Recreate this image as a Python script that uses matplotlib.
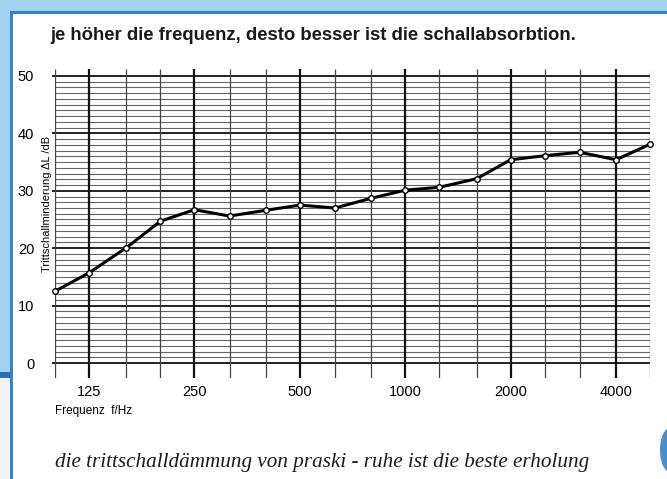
import numpy as np
import matplotlib.pyplot as plt
from matplotlib.patches import Rectangle, Ellipse

# Terzmittenfrequenzen [Hz] und Trittschallminderung [dB]
freq = np.array([100, 125, 160, 200, 250, 315, 400, 500, 630, 800,
                 1000, 1250, 1600, 2000, 2500, 3150, 4000, 5000])
dL = np.array([12.5, 15.7, 20.1, 24.7, 26.7, 25.6, 26.6, 27.5, 27.0, 28.7,
               30.1, 30.6, 32.1, 35.4, 36.1, 36.7, 35.4, 38.1])
xticks = [125, 250, 500, 1000, 2000, 4000]
yticks = [0, 10, 20, 30, 40, 50]

W, H = 667, 479
fig = plt.figure(figsize=(W / 100, H / 100), dpi=100)
fig.patch.set_facecolor("white")

def px(x0, y0, w, h, **kw):
    # rechteck in pixelkoordinaten (oben links)
    fig.patches.append(Rectangle((x0 / W, 1 - (y0 + h) / H), w / W, h / H,
                                 transform=fig.transFigure, figure=fig, **kw))

# blauer rahmen
px(0, 0, W, 11, color="#a3d3f1", lw=0)
px(0, 0, 10, 372, color="#a3d3f1", lw=0)
px(0, 378, 10, 101, color="#eef4f9", lw=0)
px(0, 372, 10, 6, color="#2a6db5", lw=0)
px(10, 11, W - 10, 2.5, color="#3a82c6", lw=0)
px(10, 11, 2.5, H - 11, color="#3a82c6", lw=0)
fig.patches.append(Ellipse((670 / W, 1 - 450 / H), 20 / W, 44 / H,
                           transform=fig.transFigure, figure=fig,
                           color="#4a8fcc", lw=0))

fnt = dict(family="Liberation Sans")

ax = fig.add_axes([55 / W, 1 - 378 / H, 595 / W, 309 / H])
ax.set_xscale("log")
ax.set_xlim(100, 5000)
ax.set_ylim(-2.6, 51.2)
for s in ax.spines.values():
    s.set_visible(False)

# raster
for y in range(0, 51):
    if y % 10 == 0:
        ax.hlines(y, 98, 5000, color="#111111", lw=1.3, zorder=1, clip_on=False)
    else:
        ax.hlines(y, 100, 5000, color="#666666", lw=0.8, zorder=1)
for f in freq:
    if f in xticks:
        ax.vlines(f, -2.6, 51.2, color="#111111", lw=1.6, zorder=1)
    else:
        ax.vlines(f, -2.6, 51.2, color="#444444", lw=0.9, zorder=1)

ax.plot(freq, dL, "-", color="black", lw=2.2, zorder=3, clip_on=False)
ax.plot(freq, dL, "o", ms=4, mfc="white", mec="black", mew=1.0, zorder=4,
        clip_on=False)

ax.set_xticks(xticks)
ax.set_xticklabels([str(t) for t in xticks], fontsize=10.5, **fnt)
ax.xaxis.set_minor_locator(plt.NullLocator())
ax.set_yticks(yticks)
ax.set_yticklabels([str(t) for t in yticks], fontsize=10.5, **fnt)
ax.tick_params(length=0)
ax.tick_params(axis="y", pad=15)
ax.tick_params(axis="x", pad=5)

fig.text(47.5 / W, 1 - 204 / H, "Trittschallminderung ΔL /dB", rotation=90,
         ha="center", va="center", fontsize=8, **fnt)
fig.text(55 / W, 1 - 411 / H, "Frequenz  f/Hz", ha="left", va="center",
         fontsize=8.5, **fnt)

fig.text(50 / W, 1 - 35 / H,
         "je höher die frequenz, desto besser ist die schallabsorbtion.",
         ha="left", va="center", family="Liberation Sans", fontsize=13.3,
         fontweight="bold", color="#1a1a1a")
fig.text(55 / W, 1 - 463 / H,
         "die trittschalldämmung von praski - ruhe ist die beste erholung",
         ha="left", va="center", family="Liberation Serif", style="italic",
         fontsize=15.2, color="#1a1a1a")

fig.savefig("out.png", dpi=100)
